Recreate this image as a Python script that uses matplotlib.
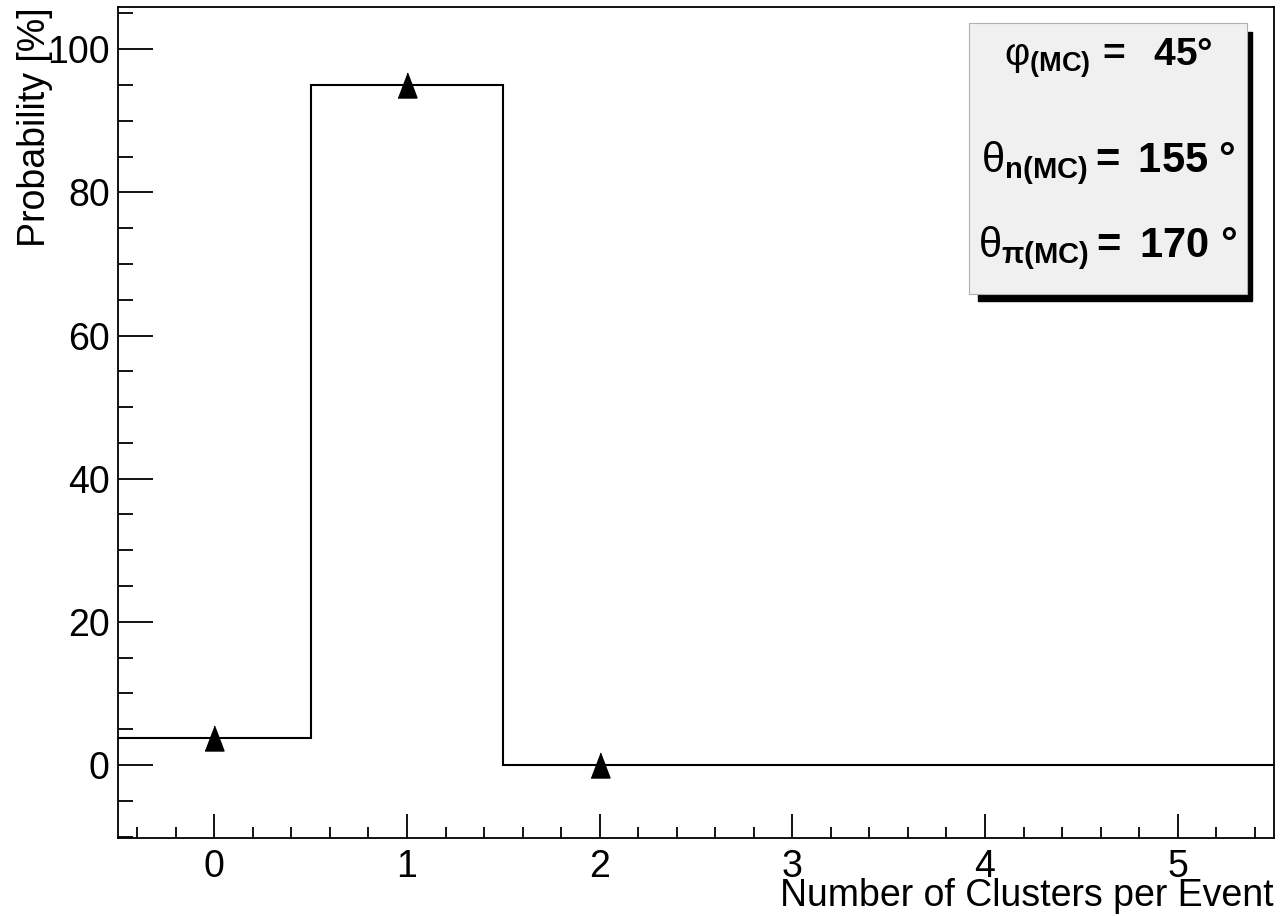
import numpy as np
import matplotlib
matplotlib.use("Agg")
import matplotlib.pyplot as plt
from matplotlib.patches import Rectangle
from matplotlib.ticker import MultipleLocator

plt.rcParams['font.family'] = ['Liberation Sans', 'DejaVu Sans']
plt.rcParams['mathtext.fontset'] = 'custom'
plt.rcParams['mathtext.rm'] = 'Liberation Sans'
plt.rcParams['mathtext.bf'] = 'Liberation Sans:bold'
plt.rcParams['mathtext.it'] = 'Liberation Sans:italic'

# histogram: number of clusters per event, probability in %
n_clusters = np.array([0, 1, 2, 3, 4, 5])
probability = np.array([3.8, 95.0, 0.0, 0.0, 0.0, 0.0])
# points drawn with markers
marker_x = n_clusters[:3]
marker_y = probability[:3]

labels = [r'$\mathrm{φ}_{\mathbf{(MC)}}\mathbf{\,=\ \ 45°}$',
          r'$\mathrm{θ}_{\mathbf{n(MC)}}\mathbf{=\ 155\ °}$',
          r'$\mathrm{θ}_{\mathbf{π(MC)}}\mathbf{=\ 170\ °}$']

W, H = 1283, 916
fig = plt.figure(figsize=(W / 100, H / 100), dpi=100)
ax = fig.add_axes([118 / W, 1 - 838 / H, (1274 - 118) / W, (838 - 7) / H])

edges = np.append(n_clusters - 0.5, n_clusters[-1] + 0.5)
ax.stairs(probability, edges, color='black', lw=1.5, baseline=None)

tri = [(-0.76, -1), (0.76, -1), (0, 1)]
ax.plot(marker_x, marker_y, linestyle='none', marker=tri, ms=18,
        color='black')

ax.set_xlim(-0.5, 5.5)
ax.set_ylim(-10.2, 105.9)
ax.xaxis.set_major_locator(MultipleLocator(1))
ax.xaxis.set_minor_locator(MultipleLocator(0.2))
ax.yaxis.set_major_locator(MultipleLocator(20))
ax.yaxis.set_minor_locator(MultipleLocator(5))
ax.tick_params(which='both', direction='in', width=1.3, labelsize=27)
ax.tick_params(axis='x', which='major', length=17, pad=8)
ax.tick_params(axis='x', which='minor', length=8)
ax.tick_params(axis='y', which='major', length=25, pad=6)
ax.tick_params(axis='y', which='minor', length=11)
for s in ax.spines.values():
    s.set_linewidth(1.3)

ax.set_xlabel('Number of Clusters per Event', fontsize=27, loc='right',
              labelpad=-5)
ax.set_ylabel('Probability [%]', fontsize=27, loc='top', labelpad=-4)

# info box with shadow
fig.patches.append(Rectangle((978 / W, 1 - 301 / H), 274 / W, 269 / H,
                             transform=fig.transFigure, color='black',
                             zorder=5))
fig.patches.append(Rectangle((969 / W, 1 - 294 / H), 278 / W, 271 / H,
                             transform=fig.transFigure, facecolor='#f0f0f0',
                             edgecolor='#b0b0b0', lw=0.8, zorder=6))
ys = [58, 163, 248]
sizes = [28, 30, 30]
for lab, y, fs in zip(labels, ys, sizes):
    fig.text(1108 / W, 1 - y / H, lab, fontsize=fs, ha='center',
             va='center', zorder=7)

fig.savefig('out.png', dpi=100)
